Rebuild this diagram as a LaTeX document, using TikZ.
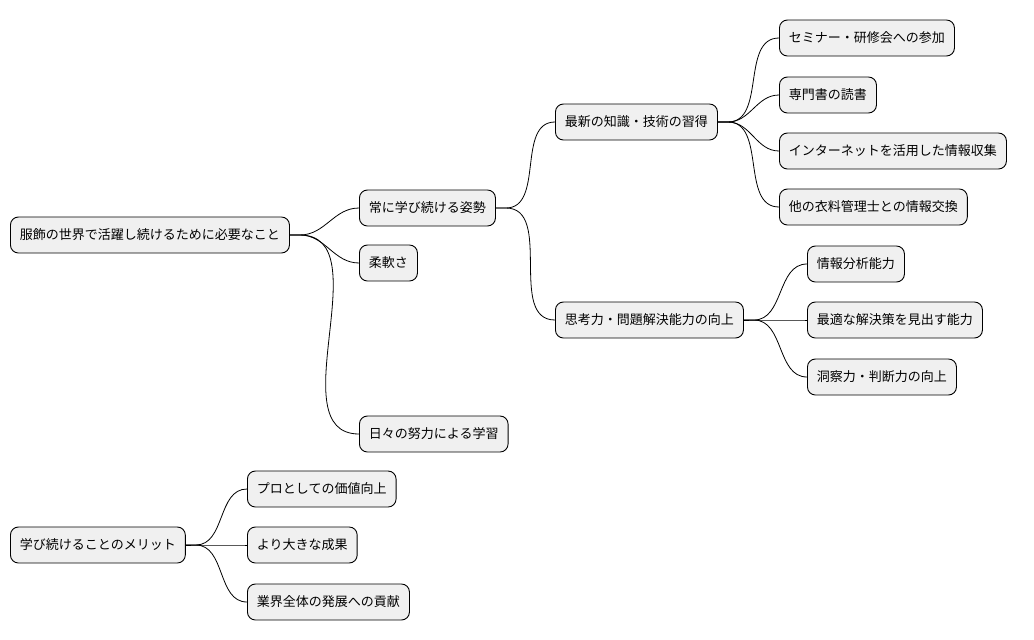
\documentclass[tikz,border=0pt]{standalone}
\usepackage{fontspec}
\setmainfont{Noto Sans CJK JP}
\begin{document}
\begin{tikzpicture}[x=1pt,y=-1pt,
  box/.style={draw=black,fill=black!6,rounded corners=8pt,line width=0.9pt,minimum height=36pt,inner xsep=9.5pt,anchor=west,font=\fontsize{13pt}{15pt}\selectfont},
  lk/.style={draw=black,line width=0.8pt}]
\useasboundingbox (0,0) rectangle (1034,640);
\node[box] (r) at (10,235) {服飾の世界で活躍し続けるために必要なこと};
\node[box] (a) at (359,208) {常に学び続ける姿勢};
\node[box] (b) at (359,263) {柔軟さ};
\node[box] (c) at (359,434) {日々の努力による学習};
\node[box] (a1) at (555,122) {最新の知識・技術の習得};
\node[box] (a2) at (555,320) {思考力・問題解決能力の向上};
\node[box] (s1) at (779,38) {セミナー・研修会への参加};
\node[box] (s2) at (779,95) {専門書の読書};
\node[box] (s3) at (779,151) {インターネットを活用した情報収集};
\node[box] (s4) at (779,207) {他の衣料管理士との情報交換};
\node[box] (t1) at (807,264) {情報分析能力};
\node[box] (t2) at (807,320) {最適な解決策を見出す能力};
\node[box] (t3) at (807,377) {洞察力・判断力の向上};
\node[box] (m) at (10,545) {学び続けることのメリット};
\node[box] (m1) at (247,489) {プロとしての価値向上};
\node[box] (m2) at (247,545) {より大きな成果};
\node[box] (m3) at (247,602) {業界全体の発展への貢献};
\foreach \p/\c in {r/a,r/b,r/c,a/a1,a/a2,a1/s1,a1/s2,a1/s3,a1/s4,a2/t1,a2/t2,a2/t3,m/m1,m/m2,m/m3}
  \draw[lk] (\p.east) -- ++(10,0) to[out=0,in=180] (\c.west);
\end{tikzpicture}
\end{document}
